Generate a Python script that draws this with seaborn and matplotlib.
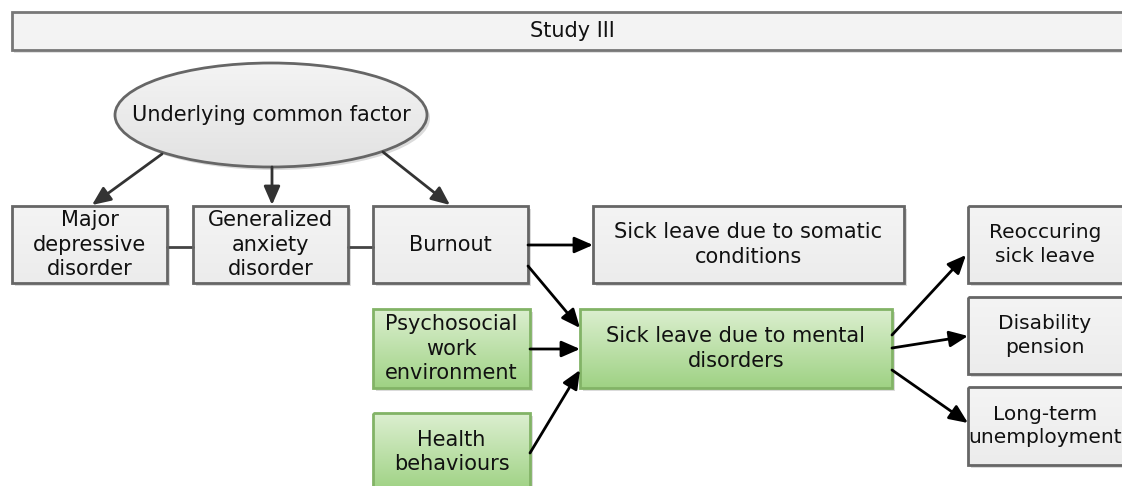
import numpy as np
import matplotlib.pyplot as plt
import seaborn as sns
from matplotlib.patches import Rectangle, Ellipse, FancyArrowPatch
from matplotlib.colors import LinearSegmentedColormap

sns.set_theme(style="white")
plt.rcParams['font.family'] = ['DejaVu Sans']

# text of the diagram
title = "Study III"
factor = "Underlying common factor"
gray_labels = ["Major\ndepressive\ndisorder", "Generalized\nanxiety\ndisorder", "Burnout",
               "Sick leave due to somatic\nconditions", "Reoccuring\nsick leave",
               "Disability\npension", "Long-term\nunemployment"]
green_labels = ["Psychosocial\nwork\nenvironment", "Health\nbehaviours",
                "Sick leave due to mental\ndisorders"]
# who points at whom
arrows = [(factor, gray_labels[0]), (factor, gray_labels[1]), (factor, gray_labels[2]),
          (gray_labels[2], gray_labels[3]), (gray_labels[2], green_labels[2]),
          (green_labels[0], green_labels[2]), (green_labels[1], green_labels[2]),
          (green_labels[2], gray_labels[4]), (green_labels[2], gray_labels[5]),
          (green_labels[2], gray_labels[6])]
links = [(gray_labels[0], gray_labels[1]), (gray_labels[1], gray_labels[2])]

# layout in pixels (x0, y0, x1, y1), y grows downwards; right column runs off the picture
boxes = {
    gray_labels[0]: (12, 206, 167, 283),
    gray_labels[1]: (193, 206, 348, 283),
    gray_labels[2]: (373, 206, 528, 283),
    gray_labels[3]: (593, 206, 904, 283),
    gray_labels[4]: (968, 206, 1145, 283),
    gray_labels[5]: (968, 297, 1145, 374),
    gray_labels[6]: (968, 387, 1145, 465),
    green_labels[0]: (373, 309, 530, 388),
    green_labels[1]: (373, 413, 530, 491),
    green_labels[2]: (580, 309, 892, 388),
}
arrow_pts = [((162, 154), (92, 205)), ((272, 167), (272, 205)), ((383, 152), (450, 205)),
             ((528, 245), (593, 245)), ((528, 266), (580, 328)),
             ((530, 349), (580, 349)), ((530, 453), (580, 370)),
             ((892, 335), (966, 255)), ((892, 348), (968, 336)), ((892, 370), (968, 423))]

fig = plt.figure(figsize=(11.22, 4.86), dpi=100)
ax = fig.add_axes([0, 0, 1, 1])


def gradient(patch, x0, y0, x1, y1, top, bottom, z):
    cmap = LinearSegmentedColormap.from_list("g", [top, bottom])
    grad = np.linspace(0, 1, 64).reshape(-1, 1)
    im = ax.imshow(grad, cmap=cmap, extent=(x0, x1, y1, y0), origin='upper',
                   aspect='auto', zorder=z, interpolation='bilinear')
    im.set_clip_path(patch)


def box(label, green=False):
    x0, y0, x1, y1 = boxes[label]
    w, h = x1 - x0, y1 - y0
    ax.add_patch(Rectangle((x0 + 3, y0 + 3), w, h, facecolor='#888888', alpha=0.3,
                           edgecolor='none', zorder=1))
    if green:
        top, bottom, edge = '#dcefd0', '#9fd284', '#82b366'
    else:
        top, bottom, edge = '#f4f4f4', '#ececec', '#666666'
    r = Rectangle((x0, y0), w, h, facecolor='none', edgecolor=edge, lw=2, zorder=3)
    ax.add_patch(r)
    gradient(r, x0, y0, x1, y1, top, bottom, 2)
    if x1 > 1122:
        tx, fs = 1045, 14.5
    else:
        tx, fs = (x0 + x1) / 2, 15
    ax.text(tx, (y0 + y1) / 2, label, ha='center', va='center',
            fontsize=fs, color='#111111', linespacing=1.3, zorder=4)


# title bar
ax.add_patch(Rectangle((14, 15), 1140, 38, facecolor='#888888', alpha=0.25, edgecolor='none', zorder=1))
ax.add_patch(Rectangle((12, 12), 1140, 38, facecolor='#f3f3f3', edgecolor='#777777', lw=2, zorder=3))
ax.text(572, 31, title, ha='center', va='center', fontsize=15, color='#111111', zorder=4)

# ellipse
ax.add_patch(Ellipse((274, 118), 312, 104, facecolor='#888888', alpha=0.3, edgecolor='none', zorder=1))
el = Ellipse((271, 115), 312, 104, facecolor='none', edgecolor='#666666', lw=2, zorder=3)
ax.add_patch(el)
gradient(el, 115, 63, 427, 167, '#f4f4f4', '#e2e2e2', 2)
ax.text(271, 115, factor, ha='center', va='center', fontsize=15, color='#111111', zorder=4)

for lab in gray_labels:
    box(lab)
for lab in green_labels:
    box(lab, green=True)

# plain links between the left boxes
for a, b in links:
    ya = (boxes[a][1] + boxes[a][3]) / 2 + 2
    ax.plot([boxes[a][2], boxes[b][0]], [ya, ya], color='#444444', lw=2, zorder=2)

for (src, dst), (pa, pb) in zip(arrows, arrow_pts):
    col = '#333333' if src == factor else 'black'
    ax.add_patch(FancyArrowPatch(pa, pb, arrowstyle='-|>,head_length=0.8,head_width=0.35',
                                 mutation_scale=14, lw=2, color=col,
                                 shrinkA=0, shrinkB=0, zorder=5))

ax.set_xlim(0, 1122)
ax.set_ylim(486, 0)
ax.axis('off')
fig.savefig("out.png", dpi=100)
